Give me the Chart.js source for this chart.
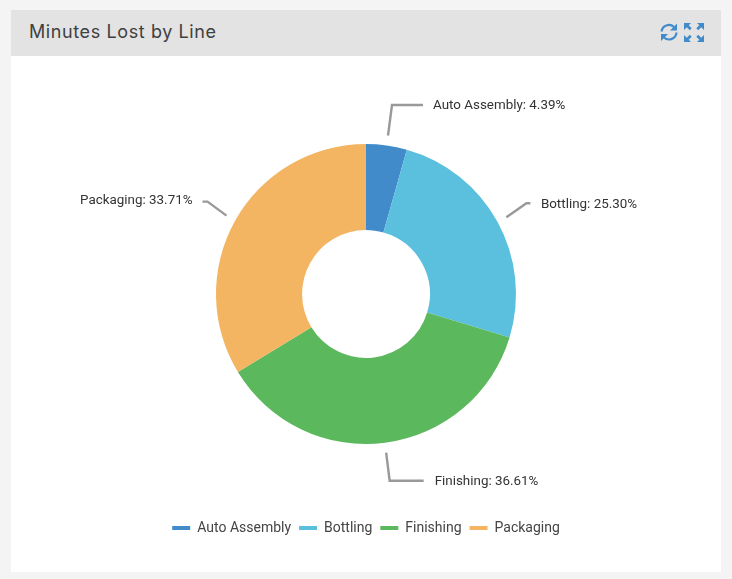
<!DOCTYPE html>
<html><head><meta charset="utf-8">
<script src="https://cdn.jsdelivr.net/npm/chart.js@4"></script>
<style>
html,body{margin:0;padding:0;width:732px;height:579px;overflow:hidden;background:#f4f4f4}
#card{position:absolute;left:11px;top:10px;width:710px;height:562px;background:#fff}
#head{position:absolute;left:0;top:0;width:710px;height:46px;background:#e3e3e3}
#title{position:absolute;left:18px;top:9px;font:18px/26px Inter,sans-serif;color:#404040;letter-spacing:.6px;white-space:nowrap}
#icons{position:absolute;left:648px;top:12px}
canvas{position:absolute;left:0;top:0}
</style></head><body>
<div id="card"><div id="head"><div id="title">Minutes Lost by Line</div>
<svg id="icons" width="49" height="21" viewBox="0 0 49 21" fill="#428bca">
<path d="M2.500 9.500A7.500 7.500 0 0 1 15 5" fill="none" stroke="#428bca" stroke-width="2.200"/>
<path d="M17.500 10.500A7.500 7.500 0 0 1 5 15.500" fill="none" stroke="#428bca" stroke-width="2.200"/>
<path d="M18 1.500V8.500H11zM2 19V12H9z"/>
<path d="M25 1h7l-2.300 2.300 3 3-1.900 1.900-3-3L25 8zM45 1h-7l2.300 2.300-3 3 1.900 1.900 3-3L45 8zM25 20h7l-2.300-2.300 3-3-1.900-1.900-3 3L25 13zM45 20h-7l2.300-2.300-3-3 1.900-1.900 3 3L45 13z"/>
</svg></div></div>
<canvas id="c" width="732" height="579"></canvas>
<script>
const categories = ["Auto Assembly", "Bottling", "Finishing", "Packaging"];
const shares = [4.39, 25.30, 36.61, 33.71];
const colours = ["#428bca", "#5bc0de", "#5cb85c", "#f3b562"];
const calloutStart = 160;
const calloutElbowX = [4, 20, 3.500, -19];
const calloutElbowY = [-30.500, -14, 28, -14];
const calloutRun = [31, 4, 34, 5];
const calloutGap = [10, 10.500, 11, 10];
const calloutTextShift = [1, 1, 1, -0.500];

const callouts = {
  id: "callouts",
  afterDatasetsDraw(chart) {
    const { ctx } = chart;
    const arcs = chart.getDatasetMeta(0).data;
    ctx.save();
    ctx.font = "13.4px Roboto, sans-serif";
    ctx.textBaseline = "middle";
    arcs.forEach((arc, i) => {
      const a = (arc.startAngle + arc.endAngle) / 2;
      const x0 = arc.x + Math.cos(a) * calloutStart, y0 = arc.y + Math.sin(a) * calloutStart;
      const x1 = x0 + calloutElbowX[i], y1 = y0 + calloutElbowY[i];
      const dir = calloutElbowX[i] >= 0 ? 1 : -1;
      const x2 = x1 + dir * calloutRun[i];
      ctx.strokeStyle = "#999";
      ctx.lineWidth = 2.4;
      ctx.beginPath();
      ctx.moveTo(x0, y0); ctx.lineTo(x1, y1); ctx.lineTo(x2, y1);
      ctx.stroke();
      ctx.fillStyle = "#333";
      ctx.textAlign = dir > 0 ? "left" : "right";
      ctx.fillText(categories[i] + ": " + shares[i].toFixed(2) + "%", x2 + dir * calloutGap[i], y1 + calloutTextShift[i]);
    });
    ctx.restore();
  }
};

new Chart(document.getElementById("c"), {
  type: "doughnut",
  data: { labels: categories, datasets: [{ data: shares, backgroundColor: colours, borderWidth: 0 }] },
  options: {
    responsive: false, animation: false, devicePixelRatio: 1,
    radius: 150, cutout: "42.600%",
    layout: { padding: { top: 75, bottom: 34 } },
    plugins: {
      tooltip: { enabled: false },
      legend: {
        position: "bottom",
        labels: { boxWidth: 18, boxHeight: 4, padding: 8, color: "#444", font: { family: "Roboto, sans-serif", size: 14 } }
      }
    }
  },
  plugins: [callouts]
});
</script></body></html>
